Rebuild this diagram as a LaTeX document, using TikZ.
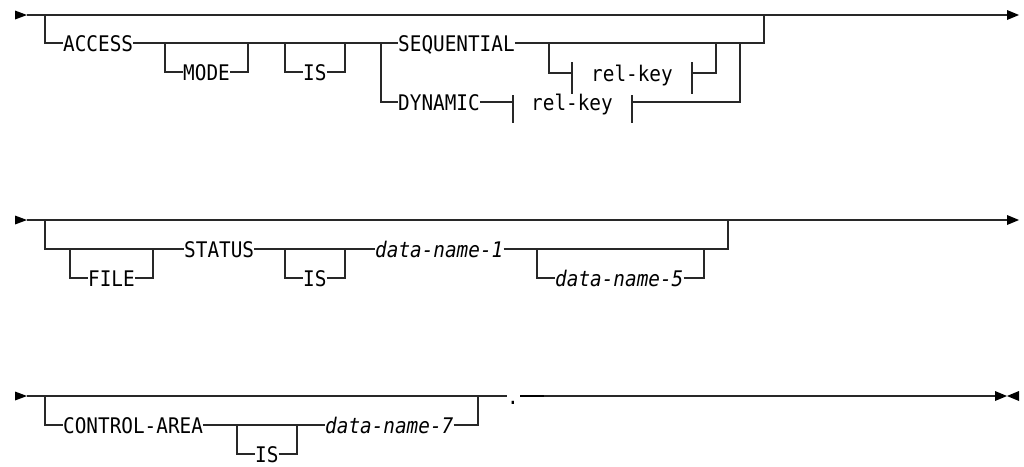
\documentclass[tikz,border=0pt]{standalone}
\usepackage{fontspec}
\setmonofont[FakeStretch=0.9]{DejaVu Sans Mono}
\newcommand\rrfont{\fontsize{21.5}{24}\selectfont\ttfamily}
\definecolor{lc}{RGB}{40,40,40}
\tikzset{
  rr/.style={draw=lc, line width=1.3pt},
  kw/.style={inner sep=0pt, text height=17pt, text depth=1pt, anchor=west, font=\rrfont},
  var/.style={kw, font=\rrfont\itshape},
  tipfill/.style={fill=black},
}
\begin{document}
\begin{tikzpicture}[x=1pt,y=-1pt]
\useasboundingbox (0,0) rectangle (1024,466);

% ---------------- Row 1 ----------------
\coordinate (s1) at (27,15);
\coordinate (e1) at (1007,15);
\fill[tipfill] (15,10.5) -- (s1) -- (15,19.5) -- cycle;
\fill[tipfill] (e1) ++(0,-5) -- (1019,15) -- (1007,20) -- cycle;
\draw[rr] (s1) -- (e1);

\node[kw] (acc) at (63,43) {ACCESS};
\node[kw] (mode) at (183,72) {MODE};
\node[kw] (is1) at (303,72) {IS};
\node[kw] (seq) at (398,43) {SEQUENTIAL};
\node[kw] (dyn) at (398,102) {DYNAMIC};
\node[kw] (rk1) at (591,73) {rel-key};
\node[kw] (rk2) at (531,102) {rel-key};

\draw[rr] (45,15) |- (acc.west);
\draw[rr] (acc.east) -- (seq.west);
\draw[rr] (165,43) |- (mode.west);
\draw[rr] (mode.east) -| (248,43);
\draw[rr] (285,43) |- (is1.west);
\draw[rr] (is1.east) -| (345,43);
\draw[rr] (381,43) |- (dyn.west);
\draw[rr] (seq.east) -- (764,43) -- (764,15);
% optional rel-key after SEQUENTIAL
\draw[rr] (549,43) |- (572,73);
\draw[rr] (572,62) -- (572,94);
\draw[rr] (692,62) -- (692,94);
\draw[rr] (692,73) -| (716,43);
% rel-key after DYNAMIC
\draw[rr] (dyn.east) -- (513,102);
\draw[rr] (513,95) -- (513,123);
\draw[rr] (632,95) -- (632,123);
\draw[rr] (632,102) -| (740,43);

% ---------------- Row 2 ----------------
\coordinate (s2) at (27,220);
\coordinate (e2) at (1007,220);
\fill[tipfill] (15,215.5) -- (s2) -- (15,224.5) -- cycle;
\fill[tipfill] (1007,215) -- (1019,220) -- (1007,225) -- cycle;
\draw[rr] (s2) -- (e2);

\node[kw] (file) at (88,278) {FILE};
\node[kw] (status) at (184,249) {STATUS};
\node[kw] (is2) at (303,278) {IS};
\node[var] (dn1) at (375,249) {data-name-1};
\node[var] (dn5) at (555,278) {data-name-5};

\draw[rr] (45,220) |- (status.west);
\draw[rr] (70,249) |- (file.west);
\draw[rr] (file.east) -| (153,249);
\draw[rr] (status.east) -- (dn1.west);
\draw[rr] (285,249) |- (is2.west);
\draw[rr] (is2.east) -| (345,249);
\draw[rr] (dn1.east) -- (728,249) -- (728,220);
\draw[rr] (537,249) |- (dn5.west);
\draw[rr] (dn5.east) -| (704,249);

% ---------------- Row 3 ----------------
\coordinate (s3) at (27,396);
\coordinate (e3) at (995,396);
\fill[tipfill] (15,391.5) -- (s3) -- (15,400.5) -- cycle;
\fill[tipfill] (e3) ++(0,-5) -- (1007,396) -- (995,401) -- cycle;
\fill[tipfill] (1019,391) -- (1007,396) -- (1019,401) -- cycle;

\node[kw] (ca) at (63,425) {CONTROL-AREA};
\node[kw] (is3) at (255,454) {IS};
\node[var] (dn7) at (325,425) {data-name-7};
\node[kw] (dot) at (507,396) {.};

\draw[rr] (s3) -- (dot.west);
\draw[rr] (45,396) |- (ca.west);
\draw[rr] (ca.east) -- (dn7.west);
\draw[rr] (237,425) |- (is3.west);
\draw[rr] (is3.east) -| (297,425);
\draw[rr] (dn7.east) -| (478,396);
\draw[draw=black, line width=2.4pt] (dot.east) ++(1,0) -- (544,396);
\draw[rr] (544,396) -- (e3);
\end{tikzpicture}
\end{document}
